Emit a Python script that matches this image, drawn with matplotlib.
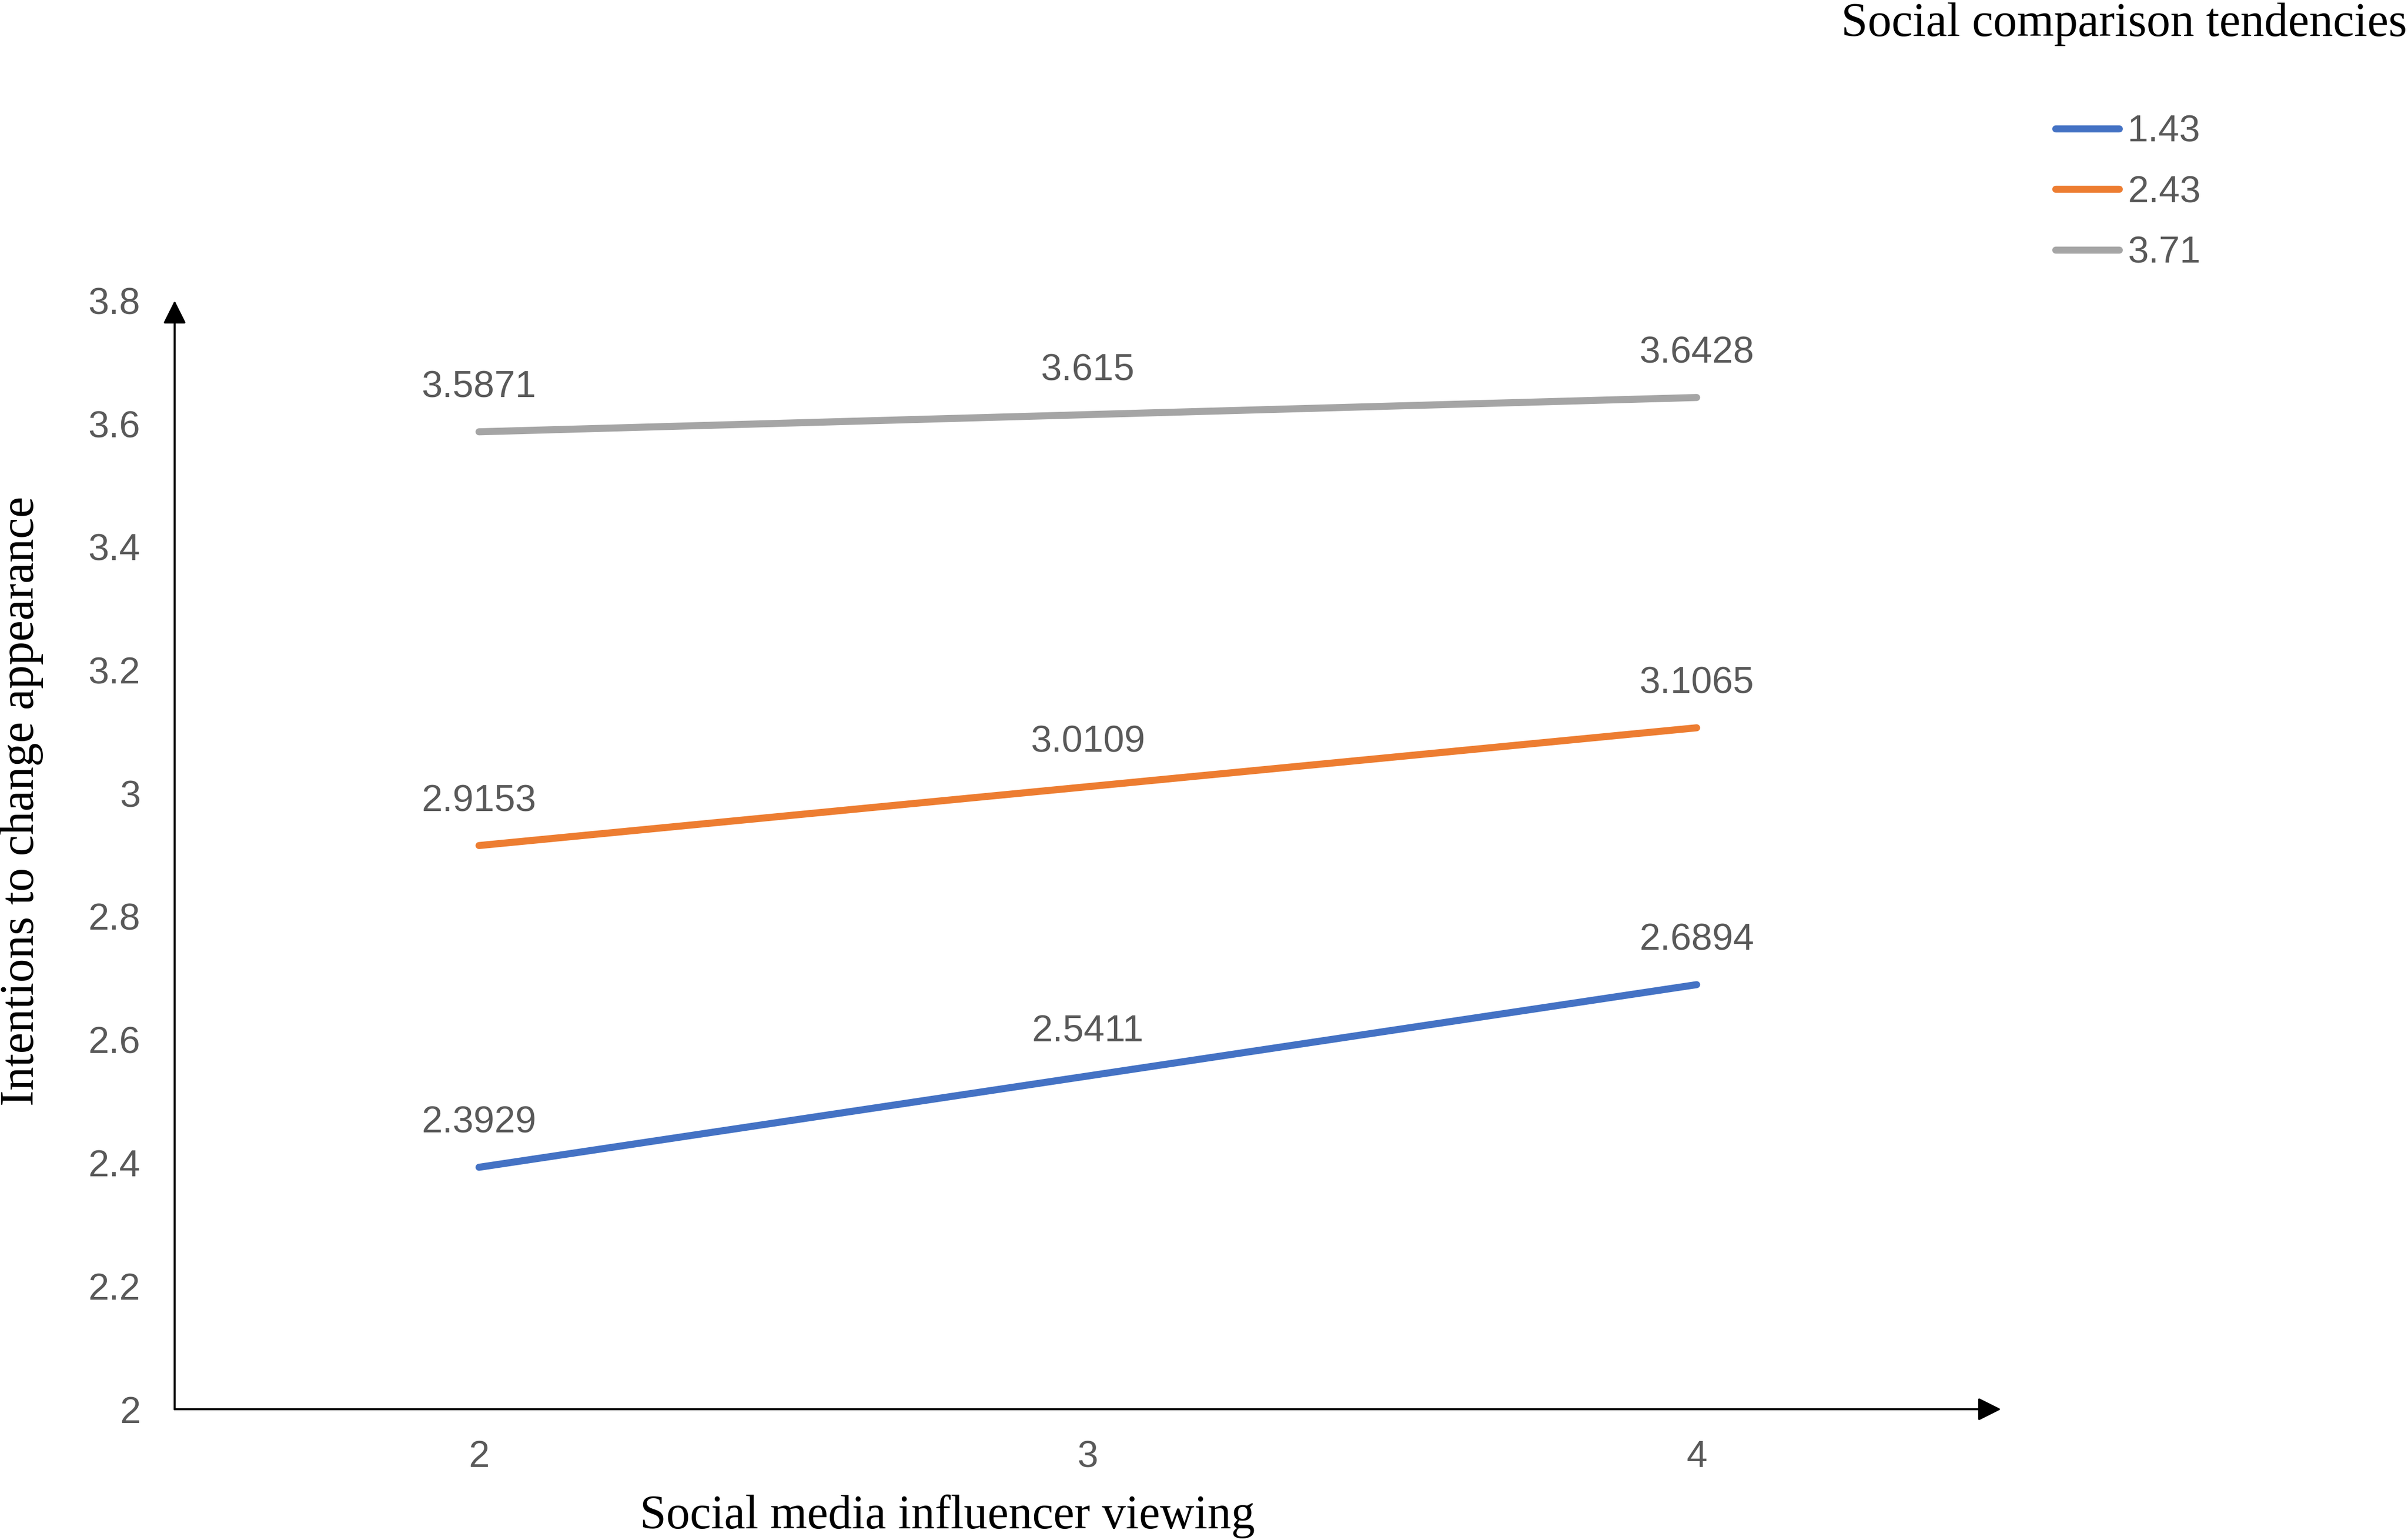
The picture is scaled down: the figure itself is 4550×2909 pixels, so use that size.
import matplotlib
matplotlib.use("Agg")
import matplotlib.pyplot as plt

# ---- data ----
x_values = [2, 3, 4]
series_labels = ["1.43", "2.43", "3.71"]
series_low = [2.3929, 2.5411, 2.6894]
series_mid = [2.9153, 3.0109, 3.1065]
series_high = [3.5871, 3.615, 3.6428]
x_tick_labels = ["2", "3", "4"]
y_ticks = [2.0, 2.2, 2.4, 2.6, 2.8, 3.0, 3.2, 3.4, 3.6, 3.8]
y_tick_labels = ["2", "2.2", "2.4", "2.6", "2.8", "3", "3.2", "3.4", "3.6", "3.8"]
legend_title = "Social comparison tendencies"
x_label = "Social media influencer viewing"
y_label = "Intentions to change appearance"

colors = ["#4472C4", "#ED7D31", "#A5A5A5"]
text_gray = "#595959"
sans = ["Liberation Sans", "DejaVu Sans"]
serif = ["Liberation Serif", "DejaVu Serif"]

W, H, DPI = 4550, 2909, 300
fig = plt.figure(figsize=(W / DPI, H / DPI), dpi=DPI)
ax = fig.add_axes([330 / W, 1 - 2662 / H, (3781 - 330) / W, (2662 - 568) / H])

all_series = [series_low, series_mid, series_high]
lines = []
for vals, lab, col in zip(all_series, series_labels, colors):
    ln, = ax.plot(x_values, vals, color=col, lw=3.2, solid_capstyle="round", label=lab, zorder=3)
    lines.append(ln)
    for xv, yv in zip(x_values, vals):
        ax.annotate(f"{yv:g}", xy=(xv, yv), xytext=(0, 15.6), textcoords="offset points",
                    ha="center", va="baseline", fontsize=17, color=text_gray, family=sans)

ax.set_xlim(1.5, 4.5)
ax.set_ylim(2.0, 3.8)
ax.set_xticks(x_values)
ax.set_xticklabels(x_tick_labels)
ax.set_yticks(y_ticks)
ax.set_yticklabels(y_tick_labels)
ax.tick_params(axis="both", length=0, labelsize=17, labelcolor=text_gray)
ax.tick_params(axis="y", pad=15.5)
ax.tick_params(axis="x", pad=14)
for lbl in ax.get_xticklabels() + ax.get_yticklabels():
    lbl.set_family(sans)
for s in ax.spines.values():
    s.set_visible(False)

arrow_kw = dict(arrowstyle="-|>,head_length=0.5,head_width=0.25", lw=0.9, color="black",
                mutation_scale=17.8, shrinkA=0, shrinkB=0)
ax.annotate("", xy=(0, 1), xytext=(0, 0), xycoords="axes fraction", arrowprops=arrow_kw)
ax.annotate("", xy=(1, 0), xytext=(0, 0), xycoords="axes fraction", arrowprops=arrow_kw)

fig.text(1790 / W, 1 - 2887 / H, x_label, ha="center", va="baseline", fontsize=21.5,
         family=serif, color="black")
fig.text(41 / W, 1 - 1513 / H, y_label, ha="center", va="center", rotation=90, fontsize=21.5,
         family=serif, color="black")

fig.text(4014 / W, 1 - 68 / H, legend_title, ha="center", va="baseline", fontsize=21.6,
         family=serif, color="black")
leg = fig.legend(handles=lines, labels=series_labels, loc="upper left",
                 bbox_to_anchor=(3884 / W, 1 - 217 / H), frameon=False, borderpad=0,
                 borderaxespad=0, handlelength=1.7, handletextpad=0.22, labelspacing=0.68,
                 prop={"family": sans, "size": 17})
for t in leg.get_texts():
    t.set_color(text_gray)

fig.savefig("out.png", dpi=DPI)
